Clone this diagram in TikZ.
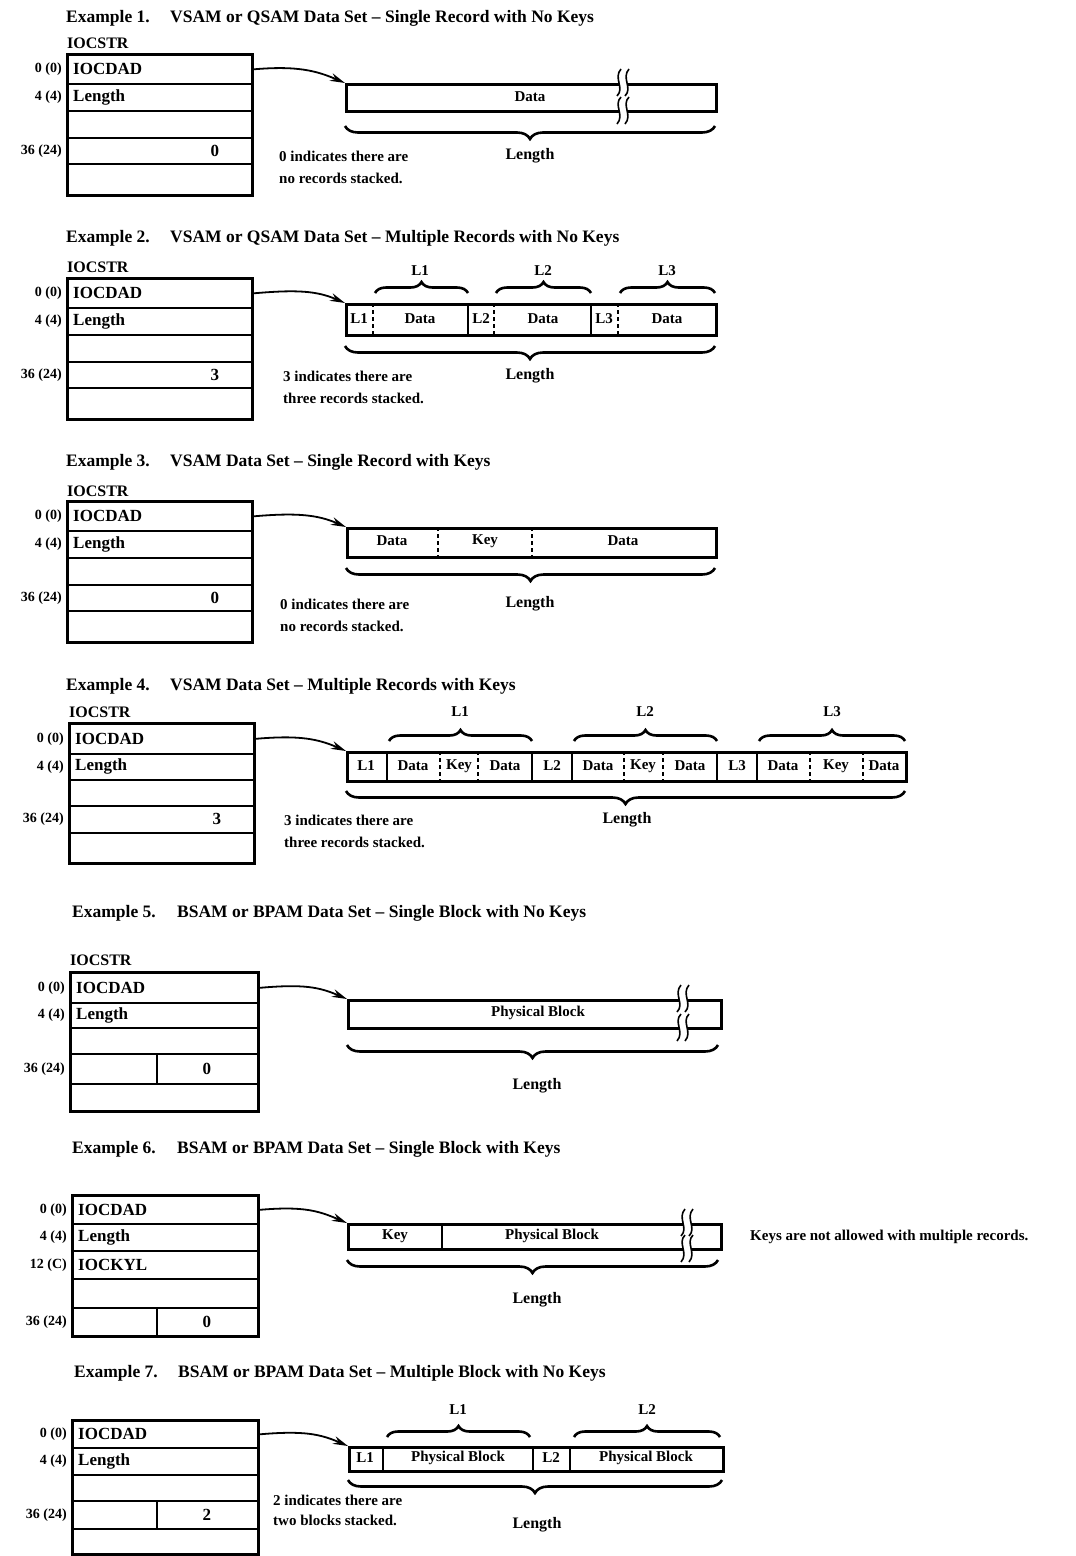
\documentclass[tikz,border=0pt]{standalone}
\usepackage{fontspec}
\setmainfont{Liberation Serif}
\usetikzlibrary{decorations.pathreplacing,arrows.meta}
\tikzset{
 txt/.style={font=\fontsize{16}{19}\selectfont\bfseries, inner sep=0pt},
 fld/.style={font=\fontsize{17}{20}\selectfont\bfseries, inner sep=0pt},
 note/.style={font=\fontsize{15}{18}\selectfont\bfseries, inner sep=0pt, anchor=west},
 ttl/.style={font=\fontsize{17.5}{20}\selectfont\bfseries, inner sep=0pt, anchor=west},
 off/.style={font=\fontsize{14}{17}\selectfont\bfseries, inner sep=0pt, anchor=east},
 cell/.style={font=\fontsize{15}{18}\selectfont\bfseries, inner sep=0pt},
 rowst/.style={draw, line width=1.8pt, inner sep=0pt, anchor=north west},
 outer/.style={line width=2.6pt},
 recst/.style={draw, line width=2.6pt, inner sep=0pt, anchor=north west},
 sep/.style={line width=1.6pt},
 dsep/.style={line width=1.6pt, dash pattern=on 4pt off 3pt},
 arr/.style={line width=1.8pt, -{Stealth[length=15pt,width=8pt]}},
 brcup/.style={line width=2.6pt, decorate, decoration={brace, amplitude=11pt}},
 brcdown/.style={line width=2.6pt, decorate, decoration={brace, mirror, amplitude=13pt}},
 brk/.style={line width=1.6pt},
}
\newcommand\mkrow[5]{\node[rowst, minimum width={(#4-(#2))*1pt}, minimum height={(#5-(#3))*1pt}] (#1) at (#2,#3) {};}
\newcommand\iocbox[9]{%
 \mkrow{#1a}{#2}{#4}{#3}{#5}
 \mkrow{#1b}{#2}{#5}{#3}{#6}
 \mkrow{#1c}{#2}{#6}{#3}{#7}
 \mkrow{#1d}{#2}{#7}{#3}{#8}
 \mkrow{#1e}{#2}{#8}{#3}{#9}
 \draw[outer] (#1a.north west) rectangle (#1e.south east);
}
\newcommand\mkrec[5]{\node[recst, minimum width={(#4-(#2))*1pt}, minimum height={(#5-(#3))*1pt}] (#1) at (#2,#3) {};}
\newcommand\brkm[3]{%
 \fill[white] ({#1-4},{#2-3}) rectangle ({#1+4},{#2+3});
 \fill[white] ({#1-4},{#3-3}) rectangle ({#1+4},{#3+3});
 \foreach \o in {-4,4}{
  \draw[brk] ({#1+(\o)+2},{#2-14}) .. controls ({#1+(\o)-6},{#2-5}) and ({#1+(\o)+6},{#2+5}) .. ({#1+(\o)-2},{#2+13});
  \draw[brk] ({#1+(\o)+2},{#3-13}) .. controls ({#1+(\o)-6},{#3-5}) and ({#1+(\o)+6},{#3+5}) .. ({#1+(\o)-2},{#3+14});
 }}
\begin{document}
\begin{tikzpicture}[x=1pt,y=-1pt]
\useasboundingbox (0,0) rectangle (1076,1556);

% ---------- Example 1
\node[ttl] (e1) at (66,18) {Example 1.};
\node[ttl] (e1t) at (170,18) {VSAM or QSAM Data Set – Single Record with No Keys};
\node[txt, anchor=west] (i1) at (67,43) {IOCSTR};
\iocbox{b1}{67}{251}{54}{83}{110}{137}{163}{194}
\node[off] (o1a) at ([xshift=-5pt]b1a.west) {0 (0)};
\node[off] (o1b) at ([xshift=-5pt]b1b.west) {4 (4)};
\node[off] (o1d) at ([xshift=-5pt]b1d.west) {36 (24)};
\node[fld, anchor=west] (f1a) at ([xshift=6pt]b1a.west) {IOCDAD};
\node[fld, anchor=west] (f1b) at ([xshift=6pt]b1b.west) {Length};
\node[fld] (f1d) at ([xshift=-38pt]b1d.east) {0};
\mkrec{r1}{345}{83}{715}{110}
\node[cell] (c1a) at (530,97) {Data};
\brkm{623}{83}{110}
\draw[arr] (b1a.east) .. controls +(45,-4) and +(-28,-12) .. (r1.north west);
\draw[brcdown] (345,126) -- (715,126);
\node[txt] (len1) at (530,156) {Length};
\node[note] (n1a) at (279,156) {0 indicates there are};
\node[note] (n1b) at (279,178) {no records stacked.};

% ---------- Example 2
\node[ttl] (e2) at (66,238) {Example 2.};
\node[ttl] (e2t) at (170,238) {VSAM or QSAM Data Set – Multiple Records with No Keys};
\node[txt, anchor=west] (i2) at (67,267) {IOCSTR};
\iocbox{b2}{67}{251}{278}{307}{334}{361}{387}{418}
\node[off] (o2a) at ([xshift=-5pt]b2a.west) {0 (0)};
\node[off] (o2b) at ([xshift=-5pt]b2b.west) {4 (4)};
\node[off] (o2d) at ([xshift=-5pt]b2d.west) {36 (24)};
\node[fld, anchor=west] (f2a) at ([xshift=6pt]b2a.west) {IOCDAD};
\node[fld, anchor=west] (f2b) at ([xshift=6pt]b2b.west) {Length};
\node[fld] (f2d) at ([xshift=-38pt]b2d.east) {3};
\mkrec{r2}{345}{303}{715}{334}
\draw[dsep] (373,303) -- (373,334);
\draw[sep] (468,303) -- (468,334);
\draw[dsep] (494,303) -- (494,334);
\draw[sep] (591,303) -- (591,334);
\draw[dsep] (618,303) -- (618,334);
\node[cell] (c2a) at (359,319) {L1};
\node[cell] (c2b) at (420,319) {Data};
\node[cell] (c2c) at (481,319) {L2};
\node[cell] (c2d) at (543,319) {Data};
\node[cell] (c2e) at (604,319) {L3};
\node[cell] (c2f) at (667,319) {Data};
\draw[arr] (b2a.east) .. controls +(45,-4) and +(-28,-12) .. (r2.north west);
\draw[brcup] (375,293) -- (468,293);
\draw[brcup] (496,293) -- (591,293);
\draw[brcup] (620,293) -- (715,293);
\node[cell] (l2a) at (420,271) {L1};
\node[cell] (l2b) at (543,271) {L2};
\node[cell] (l2c) at (667,271) {L3};
\draw[brcdown] (345,346) -- (715,346);
\node[txt] (len2) at (530,376) {Length};
\node[note] (n2a) at (283,376) {3 indicates there are};
\node[note] (n2b) at (283,398) {three records stacked.};

% ---------- Example 3
\node[ttl] (e3) at (66,462) {Example 3.};
\node[ttl] (e3t) at (170,462) {VSAM Data Set – Single Record with Keys};
\node[txt, anchor=west] (i3) at (67,491) {IOCSTR};
\iocbox{b3}{67}{251}{501}{530}{557}{584}{610}{641}
\node[off] (o3a) at ([xshift=-5pt]b3a.west) {0 (0)};
\node[off] (o3b) at ([xshift=-5pt]b3b.west) {4 (4)};
\node[off] (o3d) at ([xshift=-5pt]b3d.west) {36 (24)};
\node[fld, anchor=west] (f3a) at ([xshift=6pt]b3a.west) {IOCDAD};
\node[fld, anchor=west] (f3b) at ([xshift=6pt]b3b.west) {Length};
\node[fld] (f3d) at ([xshift=-38pt]b3d.east) {0};
\mkrec{r3}{346}{527}{715}{556}
\draw[dsep] (438,527) -- (438,556);
\draw[dsep] (532,527) -- (532,556);
\node[cell] (c3a) at (392,541) {Data};
\node[cell] (c3b) at (485,541) {Key};
\node[cell] (c3c) at (623,541) {Data};
\draw[arr] (b3a.east) .. controls +(45,-4) and +(-28,-12) .. (r3.north west);
\draw[brcdown] (346,568) -- (715,568);
\node[txt] (len3) at (530,604) {Length};
\node[note] (n3a) at (280,604) {0 indicates there are};
\node[note] (n3b) at (280,626) {no records stacked.};

% ---------- Example 4
\node[ttl] (e4) at (66,686) {Example 4.};
\node[ttl] (e4t) at (170,686) {VSAM Data Set – Multiple Records with Keys};
\node[txt, anchor=west] (i4) at (69,712) {IOCSTR};
\iocbox{b4}{69}{253}{723}{753}{779}{805}{832}{862}
\node[off] (o4a) at ([xshift=-5pt]b4a.west) {0 (0)};
\node[off] (o4b) at ([xshift=-5pt]b4b.west) {4 (4)};
\node[off] (o4d) at ([xshift=-5pt]b4d.west) {36 (24)};
\node[fld, anchor=west] (f4a) at ([xshift=6pt]b4a.west) {IOCDAD};
\node[fld, anchor=west] (f4b) at ([xshift=6pt]b4b.west) {Length};
\node[fld] (f4d) at ([xshift=-38pt]b4d.east) {3};
\mkrec{r4}{346}{751}{905}{780}
\draw[sep] (387,751) -- (387,780);
\draw[dsep] (440,751) -- (440,780);
\draw[dsep] (478,751) -- (478,780);
\draw[sep] (532,751) -- (532,780);
\draw[sep] (572,751) -- (572,780);
\draw[dsep] (624,751) -- (624,780);
\draw[dsep] (663,751) -- (663,780);
\draw[sep] (717,751) -- (717,780);
\draw[sep] (757,751) -- (757,780);
\draw[dsep] (810,751) -- (810,780);
\draw[dsep] (863,751) -- (863,780);
\node[cell] (c4a) at (366,766) {L1};
\node[cell] (c4b) at (413,766) {Data};
\node[cell] (c4c) at (459,766) {Key};
\node[cell] (c4d) at (505,766) {Data};
\node[cell] (c4e) at (552,766) {L2};
\node[cell] (c4f) at (598,766) {Data};
\node[cell] (c4g) at (643,766) {Key};
\node[cell] (c4h) at (690,766) {Data};
\node[cell] (c4i) at (737,766) {L3};
\node[cell] (c4j) at (783,766) {Data};
\node[cell] (c4k) at (836,766) {Key};
\node[cell] (c4l) at (884,766) {Data};
\draw[arr] (b4a.east) .. controls +(45,-4) and +(-28,-12) .. (r4.north west);
\draw[brcup] (389,741) -- (532,741);
\draw[brcup] (574,741) -- (717,741);
\draw[brcup] (759,741) -- (905,741);
\node[cell] (l4a) at (460,712) {L1};
\node[cell] (l4b) at (645,712) {L2};
\node[cell] (l4c) at (832,712) {L3};
\draw[brcdown] (346,791) -- (905,791);
\node[txt] (len4) at (627,820) {Length};
\node[note] (n4a) at (284,820) {3 indicates there are};
\node[note] (n4b) at (284,842) {three records stacked.};

% ---------- Example 5
\node[ttl] (e5) at (72,913) {Example 5.};
\node[ttl] (e5t) at (177,913) {BSAM or BPAM Data Set – Single Block with No Keys};
\node[txt, anchor=west] (i5) at (70,960) {IOCSTR};
\iocbox{b5}{70}{257}{972}{1002}{1027}{1053}{1083}{1110}
\draw[sep] (157,1053) -- (157,1083);
\node[off] (o5a) at ([xshift=-5pt]b5a.west) {0 (0)};
\node[off] (o5b) at ([xshift=-5pt]b5b.west) {4 (4)};
\node[off] (o5d) at ([xshift=-5pt]b5d.west) {36 (24)};
\node[fld, anchor=west] (f5a) at ([xshift=6pt]b5a.west) {IOCDAD};
\node[fld, anchor=west] (f5b) at ([xshift=6pt]b5b.west) {Length};
\node[fld] (f5d) at ([xshift=-52pt]b5d.east) {0};
\mkrec{r5}{347}{999}{720}{1027}
\node[cell] (c5a) at (538,1013) {Physical Block};
\brkm{683}{999}{1027}
\draw[arr] (b5a.east) .. controls +(45,-4) and +(-28,-12) .. (r5.north west);
\draw[brcdown] (347,1045) -- (718,1045);
\node[txt] (len5) at (537,1086) {Length};

% ---------- Example 6
\node[ttl] (e6) at (72,1149) {Example 6.};
\node[ttl] (e6t) at (177,1149) {BSAM or BPAM Data Set – Single Block with Keys};
\iocbox{b6}{72}{257}{1195}{1223}{1250}{1278}{1307}{1335}
\draw[sep] (157,1307) -- (157,1335);
\node[off] (o6a) at ([xshift=-5pt]b6a.west) {0 (0)};
\node[off] (o6b) at ([xshift=-5pt]b6b.west) {4 (4)};
\node[off] (o6c) at ([xshift=-5pt]b6c.west) {12 (C)};
\node[off] (o6e) at ([xshift=-5pt]b6e.west) {36 (24)};
\node[fld, anchor=west] (f6a) at ([xshift=6pt]b6a.west) {IOCDAD};
\node[fld, anchor=west] (f6b) at ([xshift=6pt]b6b.west) {Length};
\node[fld, anchor=west] (f6c) at ([xshift=6pt]b6c.west) {IOCKYL};
\node[fld] (f6e) at ([xshift=-52pt]b6e.east) {0};
\mkrec{r6}{347}{1223}{720}{1248}
\draw[sep] (442,1223) -- (442,1248);
\node[cell] (c6a) at (395,1236) {Key};
\node[cell] (c6b) at (552,1236) {Physical Block};
\brkm{687}{1223}{1248}
\draw[arr] (b6a.east) .. controls +(45,-4) and +(-28,-12) .. (r6.north west);
\draw[brcdown] (347,1260) -- (718,1260);
\node[txt] (len6) at (537,1300) {Length};
\node[note] (k6) at (750,1237) {Keys are not allowed with multiple records.};

% ---------- Example 7
\node[ttl] (e7) at (74,1373) {Example 7.};
\node[ttl] (e7t) at (178,1373) {BSAM or BPAM Data Set – Multiple Block with No Keys};
\iocbox{b7}{72}{257}{1420}{1447}{1474}{1500}{1528}{1553}
\draw[sep] (157,1500) -- (157,1528);
\node[off] (o7a) at ([xshift=-5pt]b7a.west) {0 (0)};
\node[off] (o7b) at ([xshift=-5pt]b7b.west) {4 (4)};
\node[off] (o7d) at ([xshift=-5pt]b7d.west) {36 (24)};
\node[fld, anchor=west] (f7a) at ([xshift=6pt]b7a.west) {IOCDAD};
\node[fld, anchor=west] (f7b) at ([xshift=6pt]b7b.west) {Length};
\node[fld] (f7d) at ([xshift=-52pt]b7d.east) {2};
\mkrec{r7}{348}{1446}{722}{1470}
\draw[sep] (383,1446) -- (383,1470);
\draw[sep] (533,1446) -- (533,1470);
\draw[sep] (570,1446) -- (570,1470);
\node[cell] (c7a) at (365,1458) {L1};
\node[cell] (c7b) at (458,1458) {Physical Block};
\node[cell] (c7c) at (551,1458) {L2};
\node[cell] (c7d) at (646,1458) {Physical Block};
\draw[arr] (b7a.east) .. controls +(45,-4) and +(-28,-12) .. (r7.north west);
\draw[brcup] (387,1437) -- (530,1437);
\draw[brcup] (574,1437) -- (720,1437);
\node[cell] (l7a) at (458,1410) {L1};
\node[cell] (l7b) at (647,1410) {L2};
\draw[brcdown] (348,1480) -- (722,1480);
\node[txt] (len7) at (537,1525) {Length};
\node[note] (n7a) at (273,1500) {2 indicates there are};
\node[note] (n7b) at (273,1520) {two blocks stacked.};
\end{tikzpicture}
\end{document}
